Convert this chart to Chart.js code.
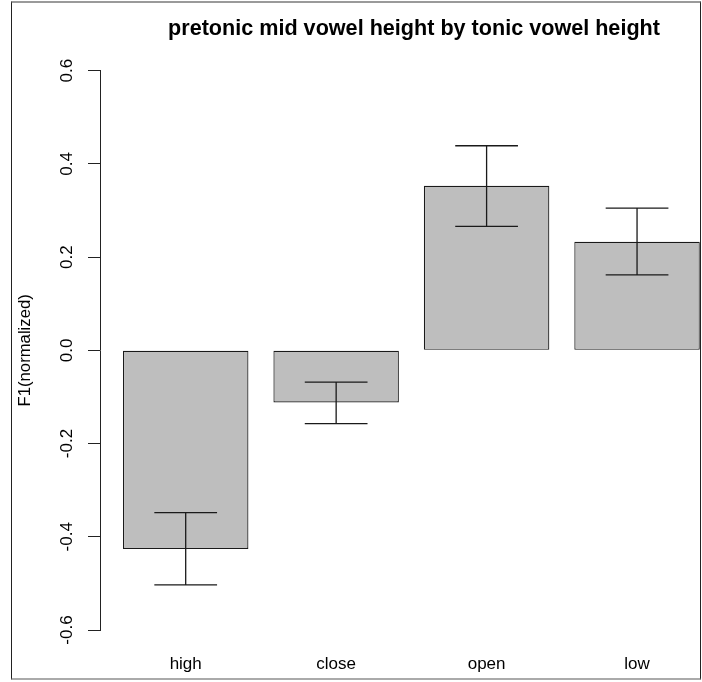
<!DOCTYPE html>
<html>
<head>
<meta charset="utf-8">
<script src="https://cdn.jsdelivr.net/npm/chart.js@4.4.0/dist/chart.umd.min.js"></script>
<style>
  html, body { margin: 0; padding: 0; background: #fff; }
  #wrap { position: relative; width: 702px; height: 682px; overflow: hidden; }
  #frame { position: absolute; left: 11px; top: 1px; width: 690px; height: 679px;
           border-top: 2px solid #9a9a9a; border-left: 1.5px solid #222;
           border-bottom: 2px solid #aaaaaa; border-right: 1px solid #222;
           box-sizing: border-box; pointer-events: none; }
</style>
</head>
<body>
<div id="wrap">
  <canvas id="c"></canvas>
  <div id="frame"></div>
</div>
<script>
// ---- data ----
const categories = ["high", "close", "open", "low"];
const means = [-0.426, -0.112, 0.353, 0.233];
const upper = [-0.348, -0.068, 0.439, 0.305];
const lower = [-0.503, -0.157, 0.266, 0.162];
const positions = [1, 2, 3, 4];
const yTicks = [-0.6, -0.4, -0.2, 0.0, 0.2, 0.4, 0.6];
const titleText = "pretonic mid vowel height by tonic vowel height";
const yTitle = "F1(normalized)";

const FONT = "'Liberation Sans', Arial, Helvetica, sans-serif";
Chart.defaults.font.family = FONT;
Chart.defaults.color = "#000";

const points = positions.map((p, i) => ({ x: p, y: means[i] }));

const errorBars = {
  id: "errorBars",
  afterDatasetsDraw(chart) {
    const ctx = chart.ctx;
    const xs = chart.scales.x, ys = chart.scales.y;
    const meta = chart.getDatasetMeta(0);
    ctx.save();
    ctx.strokeStyle = "#1a1a1a";
    ctx.lineWidth = 1.3;
    positions.forEach((p, i) => {
      const x = xs.getPixelForValue(p);
      const half = meta.data[i].width / 4;
      const yu = ys.getPixelForValue(upper[i]);
      const yl = ys.getPixelForValue(lower[i]);
      ctx.beginPath();
      ctx.moveTo(x, yu); ctx.lineTo(x, yl);
      ctx.moveTo(x - half, yu); ctx.lineTo(x + half, yu);
      ctx.moveTo(x - half, yl); ctx.lineTo(x + half, yl);
      ctx.stroke();
    });
    ctx.restore();
  }
};

const mainTitle = {
  id: "mainTitle",
  afterDraw(chart) {
    const ctx = chart.ctx;
    ctx.save();
    ctx.font = "bold 21.6px " + FONT;
    ctx.fillStyle = "#000";
    ctx.textAlign = "center";
    ctx.textBaseline = "middle";
    ctx.fillText(titleText, 414, 29);
    ctx.restore();
  }
};

new Chart(document.getElementById("c"), {
  type: "bar",
  data: {
    datasets: [{
      data: points,
      backgroundColor: "#bebebe",
      borderColor: "#1a1a1a",
      borderWidth: 1.2,
      borderSkipped: false,
      categoryPercentage: 1.0,
      barPercentage: 0.834
    }]
  },
  options: {
    responsive: true,
    maintainAspectRatio: false,
    animation: false,
    devicePixelRatio: 1,
    layout: { padding: { top: 70.7, right: 0, left: 0, bottom: 0 } },
    plugins: { legend: { display: false }, tooltip: { enabled: false }, title: { display: false } },
    scales: {
      x: {
        type: "linear",
        offset: false,
        min: 0.4304,
        max: 4.4317,
        afterFit(s) { s.height = 52; },
        afterBuildTicks(s) { s.ticks = positions.map(v => ({ value: v })); },
        grid: { display: false, offset: false },
        border: { display: false },
        ticks: {
          padding: 16,
          font: { size: 17 },
          color: "#000",
          callback: (v) => categories[positions.indexOf(v)] ?? ""
        }
      },
      y: {
        min: -0.6,
        max: 0.6,
        afterFit(s) { s.width = 100; },
        afterBuildTicks(s) { s.ticks = yTicks.map(v => ({ value: v })); },
        grid: { drawOnChartArea: false, drawTicks: true, tickLength: 12, color: "#222", lineWidth: 1 },
        border: { display: true, color: "#222", width: 1 },
        ticks: {
          minRotation: 90,
          maxRotation: 90,
          crossAlign: "center",
          padding: 6,
          font: { size: 17 },
          color: "#000",
          callback: (v) => (Math.abs(v) < 1e-9 ? 0 : v).toFixed(1)
        },
        title: { display: true, text: yTitle, font: { size: 16.7 }, color: "#000", padding: { top: 15, bottom: 0 } }
      }
    }
  },
  plugins: [errorBars, mainTitle]
});
</script>
</body>
</html>
